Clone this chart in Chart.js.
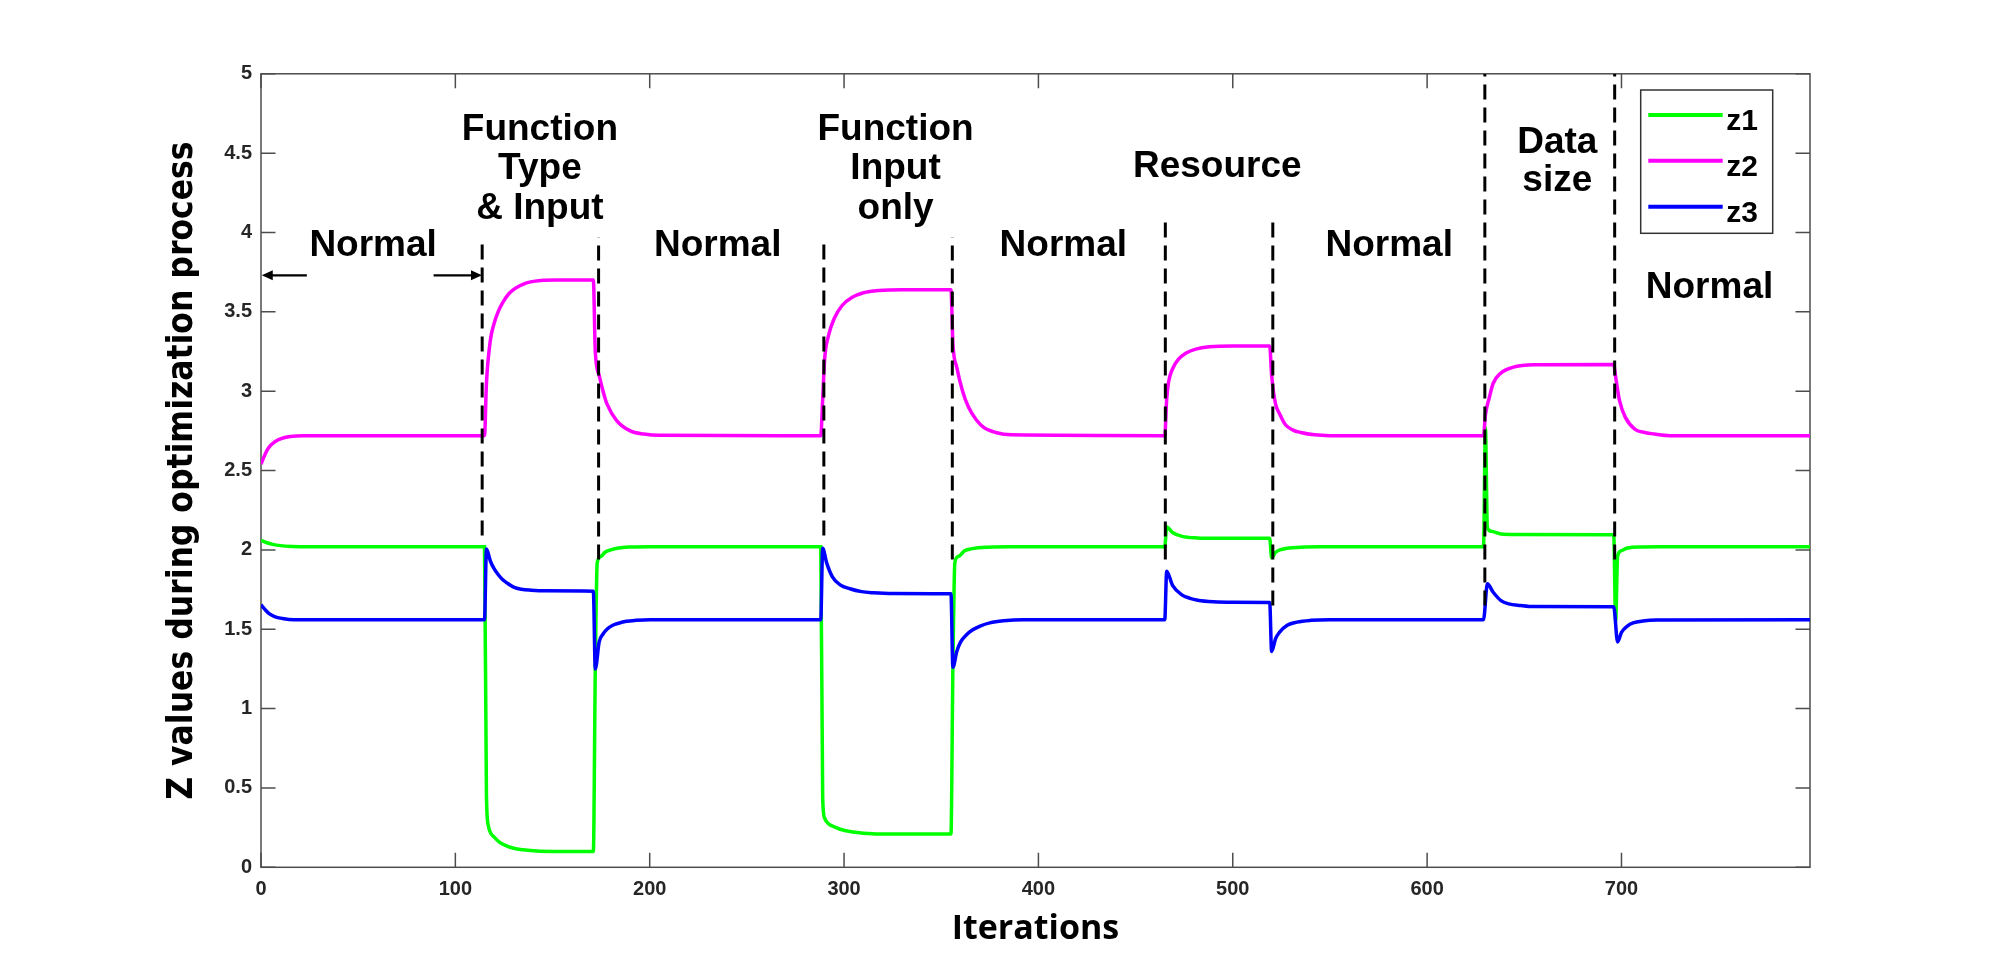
<!DOCTYPE html>
<html>
<head>
<meta charset="utf-8">
<script src="https://cdn.jsdelivr.net/npm/chart.js@4.4.0/dist/chart.umd.min.js"></script>
<style>
html,body{margin:0;padding:0;background:#ffffff;}
#wrap{width:2000px;height:975px;position:relative;}
canvas{display:block;}
</style>
</head>
<body>
<div id="wrap"><canvas id="c" width="2000" height="975"></canvas></div>
<script>
// ---------- data ----------
const xTicks = [0, 100, 200, 300, 400, 500, 600, 700];
const xTickLabels = ['0', '100', '200', '300', '400', '500', '600', '700'];
const yTicks = [0, 0.5, 1, 1.5, 2, 2.5, 3, 3.5, 4, 4.5, 5];
const yTickLabels = ['0', '0.5', '1', '1.5', '2', '2.5', '3', '3.5', '4', '4.5', '5'];
const seriesNames = ['z1', 'z2', 'z3'];

const z1Iter = [0, 3, 6, 10, 16, 25, 115, 116, 117, 118, 120, 123, 126, 130, 135, 142, 150, 171, 172, 173, 175, 177, 180, 184, 190, 200,
  288, 289, 290, 292, 294, 298, 303, 310, 318, 355, 356, 357, 359, 362, 366, 374, 385,
  465, 466, 469, 474, 482, 490, 519, 520, 522, 526, 535, 545,
  629, 630, 631, 633, 638, 645, 696, 697, 698, 700, 703, 710, 720, 797];
const z1Vals = [2.06, 2.045, 2.035, 2.027, 2.022, 2.02, 2.02, 0.45, 0.26, 0.22, 0.19, 0.155, 0.137, 0.12, 0.11, 0.102, 0.10, 0.10, 1.25, 1.92, 1.96, 1.985, 2.0, 2.012, 2.018, 2.02,
  2.02, 0.44, 0.31, 0.275, 0.26, 0.24, 0.225, 0.215, 0.21, 0.21, 1.26, 1.92, 1.96, 1.995, 2.008, 2.017, 2.02,
  2.02, 2.145, 2.11, 2.085, 2.075, 2.073, 2.073, 1.95, 1.985, 2.006, 2.017, 2.02,
  2.02, 2.77, 2.14, 2.117, 2.10, 2.097, 2.096, 1.55, 1.96, 1.995, 2.012, 2.019, 2.02, 2.02];

const z2Iter = [0, 2, 4, 7, 10, 15, 22, 115, 116, 118, 120, 122, 124, 128, 135, 144, 152, 171, 172, 174, 176, 178, 183, 190, 197, 205,
  288, 289, 290, 292, 295, 299, 304, 310, 318, 330, 355, 356, 358, 361, 364, 368, 372, 378, 386,
  465, 466, 467, 469, 472, 476, 481, 488, 500, 519, 520, 522, 524, 527, 531, 535, 542, 550,
  629, 630, 632, 634, 638, 644, 655, 696, 697, 699, 702, 707, 712, 717, 725, 797];
const z2Vals = [2.54, 2.60, 2.645, 2.68, 2.70, 2.715, 2.72, 2.72, 3.05, 3.32, 3.43, 3.50, 3.55, 3.62, 3.675, 3.697, 3.70, 3.70, 3.25, 3.10, 3.00, 2.92, 2.815, 2.75, 2.73, 2.722,
  2.72, 2.95, 3.20, 3.35, 3.46, 3.54, 3.59, 3.62, 3.635, 3.64, 3.64, 3.30, 3.15, 3.00, 2.90, 2.82, 2.77, 2.74, 2.725,
  2.72, 2.95, 3.06, 3.14, 3.20, 3.24, 3.265, 3.28, 3.285, 3.285, 3.10, 2.92, 2.86, 2.79, 2.755, 2.74, 2.725, 2.72,
  2.72, 2.85, 2.96, 3.05, 3.115, 3.15, 3.166, 3.168, 3.09, 2.94, 2.835, 2.76, 2.74, 2.73, 2.72, 2.72];

const z3Iter = [0, 2, 4, 7, 11, 17, 115, 116, 118, 120, 122, 124, 127, 130, 134, 139, 146, 171, 172, 174, 176, 178, 181, 184, 188, 193, 200,
  288, 289, 291, 294, 298, 303, 309, 315, 325, 355, 356, 358, 360, 363, 366, 370, 375, 382, 392,
  465, 466, 469, 474, 478, 482, 490, 500, 519, 520, 522, 524, 528, 533, 540, 550,
  629, 631, 634, 638, 642, 648, 655, 696, 698, 700, 703, 706, 711, 718, 797];
const z3Vals = [1.655, 1.625, 1.60, 1.58, 1.568, 1.56, 1.56, 2.005, 1.93, 1.88, 1.845, 1.817, 1.788, 1.765, 1.752, 1.746, 1.742, 1.74, 1.25, 1.42, 1.47, 1.50, 1.525, 1.538, 1.55, 1.556, 1.56,
  1.56, 2.01, 1.92, 1.83, 1.78, 1.755, 1.737, 1.73, 1.725, 1.723, 1.26, 1.36, 1.42, 1.465, 1.495, 1.52, 1.54, 1.553, 1.56,
  1.56, 1.865, 1.777, 1.715, 1.695, 1.683, 1.673, 1.67, 1.669, 1.36, 1.44, 1.48, 1.525, 1.545, 1.556, 1.56,
  1.56, 1.786, 1.733, 1.68, 1.66, 1.65, 1.643, 1.642, 1.42, 1.48, 1.52, 1.54, 1.552, 1.558, 1.56];

// phase boundaries (dashed markers): iteration, lower and upper value
const boundaryIter = [113.8, 173.7, 289.6, 355.7, 465.3, 520.6, 629.7, 696.5];
const boundaryLow  = [2.09, 1.94, 2.09, 1.94, 1.94, 1.65, 1.65, 1.94];
const boundaryHigh = [3.97, 3.97, 3.97, 3.97, 4.11, 4.11, 5.0, 5.0];

// phase labels (text, iteration of centre, value of baseline)
const phaseText = ['Normal', 'Function', 'Type', '& Input', 'Normal', 'Function', 'Input', 'only', 'Normal', 'Resource', 'Normal', 'Data', 'size', 'Normal'];
const phaseIter = [57.7, 143.5, 143.5, 143.5, 235, 326.5, 326.5, 326.5, 412.8, 492, 580.5, 667, 667, 745.3];
const phaseVal  = [3.85, 4.58, 4.335, 4.085, 3.85, 4.58, 4.335, 4.085, 3.85, 4.35, 3.85, 4.50, 4.26, 3.59];

// arrows of the first "Normal" span
const arrowFrom = [23.6, 88.8];
const arrowTo   = [0.4, 113.7];
const arrowVal  = 3.73;

// ---------- styles ----------
const seriesColors = ['#00ff00', '#ff00ff', '#0000ff'];
const axisColor = '#4d4d4d';
const tickTextColor = '#262626';

const toPts = (xs, ys) => xs.map((x, i) => ({x: x, y: ys[i]}));
const seriesIter = [z1Iter, z2Iter, z3Iter];
const seriesVals = [z1Vals, z2Vals, z3Vals];

const datasets = [];
boundaryIter.forEach((b, i) => {
  datasets.push({
    label: '_boundary' + i,
    data: [{x: b, y: boundaryLow[i]}, {x: b, y: boundaryHigh[i]}],
    borderColor: '#000000',
    borderWidth: 3,
    borderDash: [15, 8],
    pointRadius: 0,
    fill: false,
    order: 0
  });
});
// z3 on top of z2 on top of z1
[2, 1, 0].forEach((k, j) => {
  datasets.push({
    label: seriesNames[k],
    data: toPts(seriesIter[k], seriesVals[k]),
    borderColor: seriesColors[k],
    backgroundColor: seriesColors[k],
    borderWidth: 3.5,
    pointRadius: 0,
    fill: false,
    cubicInterpolationMode: 'monotone',
    order: 1 + j
  });
});

// inward ticks + full box
const boxPlugin = {
  id: 'boxPlugin',
  beforeDatasetsDraw(chart) {
    const {ctx, chartArea: a, scales: {x, y}} = chart;
    const tl = 14.5;
    ctx.save();
    ctx.strokeStyle = axisColor;
    ctx.lineWidth = 1.5;
    ctx.beginPath();
    xTicks.forEach(v => {
      const px = x.getPixelForValue(v);
      ctx.moveTo(px, a.bottom); ctx.lineTo(px, a.bottom - tl);
      ctx.moveTo(px, a.top); ctx.lineTo(px, a.top + tl);
    });
    yTicks.forEach(v => {
      const py = y.getPixelForValue(v);
      ctx.moveTo(a.left, py); ctx.lineTo(a.left + tl, py);
      ctx.moveTo(a.right, py); ctx.lineTo(a.right - tl, py);
    });
    ctx.stroke();
    ctx.strokeRect(a.left, a.top, a.right - a.left, a.bottom - a.top);
    ctx.restore();
  }
};

// phase labels and arrows
const notePlugin = {
  id: 'notePlugin',
  afterDatasetsDraw(chart) {
    const {ctx, scales: {x, y}} = chart;
    ctx.save();
    ctx.fillStyle = '#000000';
    ctx.font = 'bold 37px "Liberation Sans", Arial, sans-serif';
    ctx.textAlign = 'center';
    ctx.textBaseline = 'alphabetic';
    phaseText.forEach((t, i) => {
      ctx.fillText(t, x.getPixelForValue(phaseIter[i]), y.getPixelForValue(phaseVal[i]));
    });
    ctx.strokeStyle = '#000000';
    ctx.lineWidth = 2.2;
    const py = y.getPixelForValue(arrowVal);
    arrowFrom.forEach((f, i) => {
      const x0 = x.getPixelForValue(f), x1 = x.getPixelForValue(arrowTo[i]);
      const dir = Math.sign(x1 - x0);
      ctx.beginPath();
      ctx.moveTo(x0, py); ctx.lineTo(x1 - dir * 8, py);
      ctx.stroke();
      ctx.beginPath();
      ctx.moveTo(x1, py);
      ctx.lineTo(x1 - dir * 11, py - 5);
      ctx.lineTo(x1 - dir * 11, py + 5);
      ctx.closePath();
      ctx.fill();
    });
    ctx.restore();
  }
};

// legend box inside the axes, top right
const legendPlugin = {
  id: 'legendPlugin',
  afterDraw(chart) {
    const {ctx, chartArea: a} = chart;
    const bx = a.right - 169.3, by = a.top + 16.2, bw = 132, bh = 143.3;
    ctx.save();
    ctx.fillStyle = '#ffffff';
    ctx.fillRect(bx, by, bw, bh);
    ctx.strokeStyle = '#333333';
    ctx.lineWidth = 1.5;
    ctx.strokeRect(bx, by, bw, bh);
    ctx.font = 'bold 30px "Liberation Sans", Arial, sans-serif';
    ctx.textAlign = 'left';
    ctx.textBaseline = 'alphabetic';
    seriesNames.forEach((n, i) => {
      const ly = by + 25 + i * 45.85;
      ctx.strokeStyle = seriesColors[i];
      ctx.lineWidth = 4;
      ctx.beginPath();
      ctx.moveTo(bx + 7.6, ly); ctx.lineTo(bx + 82, ly);
      ctx.stroke();
      ctx.fillStyle = '#000000';
      ctx.fillText(n, bx + 85.5, ly + 15);
    });
    ctx.restore();
  }
};

new Chart(document.getElementById('c'), {
  type: 'line',
  data: {datasets: datasets},
  plugins: [boxPlugin, notePlugin, legendPlugin],
  options: {
    responsive: false,
    animation: false,
    devicePixelRatio: 1,
    parsing: true,
    layout: {padding: {left: 0, right: 190, top: 73.8, bottom: 0}},
    plugins: {legend: {display: false}, tooltip: {enabled: false}},
    elements: {line: {tension: 0}},
    scales: {
      x: {
        type: 'linear',
        min: 0,
        max: 797,
        afterBuildTicks: s => { s.ticks = xTicks.map(v => ({value: v})); },
        afterFit: s => { s.height = 975 - 867.3; },
        grid: {display: false, drawTicks: false},
        border: {display: false},
        ticks: {
          autoSkip: false,
          maxRotation: 0,
          padding: 10,
          color: tickTextColor,
          font: {family: '"Liberation Sans", Arial, sans-serif', weight: 'bold', size: 20},
          callback: v => { const k = xTicks.indexOf(v); return k >= 0 ? xTickLabels[k] : ''; }
        },
        title: {
          display: true,
          text: 'Iterations',
          color: '#000000',
          font: {family: '"Open Sans", sans-serif', weight: 'bold', size: 34},
          padding: {top: 0, bottom: 25}
        }
      },
      y: {
        type: 'linear',
        min: 0,
        max: 5,
        afterBuildTicks: s => { s.ticks = yTicks.map(v => ({value: v})); },
        afterFit: s => { s.width = 261; },
        grid: {display: false, drawTicks: false},
        border: {display: false},
        ticks: {
          padding: 9,
          color: tickTextColor,
          font: {family: '"Liberation Sans", Arial, sans-serif', weight: 'bold', size: 20},
          callback: v => { const k = yTicks.indexOf(v); return k >= 0 ? yTickLabels[k] : ''; }
        },
        title: {
          display: true,
          text: 'Z values during optimization process',
          color: '#000000',
          font: {family: '"DejaVu Sans Condensed", "DejaVu Sans", sans-serif', weight: 'bold', size: 35},
          padding: {top: 162, bottom: 0}
        }
      }
    }
  }
});
</script>
</body>
</html>
